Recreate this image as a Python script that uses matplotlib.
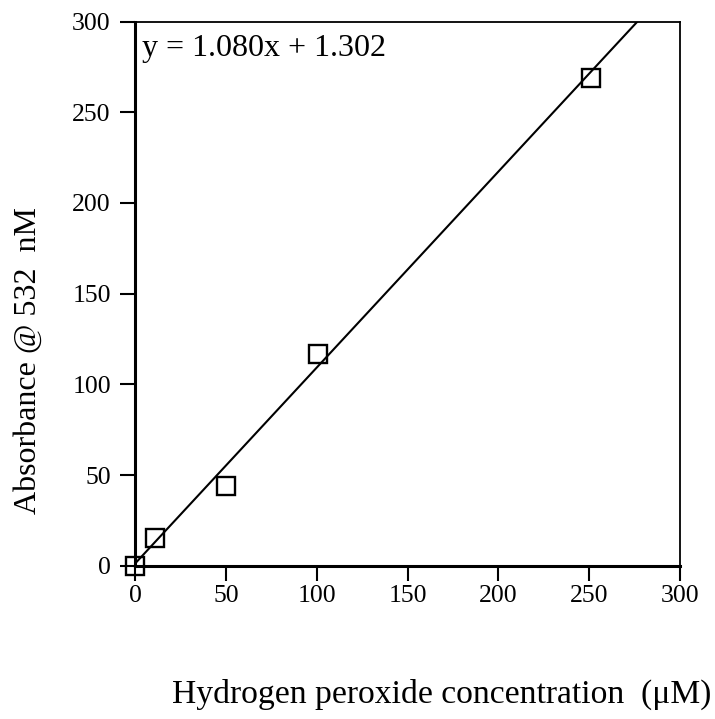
import matplotlib
matplotlib.use("Agg")
from matplotlib import rcParams
rcParams['font.family'] = ['Liberation Serif', 'DejaVu Serif']
import matplotlib.pyplot as plt
import numpy as np

# standard curve points
conc = [0, 11, 50, 100.5, 251]
absorb = [0, 15.5, 44, 116.5, 269]

# fit shown in the chart
slope = 1.080
intercept = 1.302

fig = plt.figure(figsize=(7.15, 7.19), dpi=100)
ax = fig.add_axes([0.189, 0.213, 0.762, 0.757])

xfit = np.array([0, 300])
ax.plot(xfit, slope * xfit + intercept, color="k", lw=1.5)
ax.plot(conc, absorb, ls="none", marker="s", markersize=12.5, markerfacecolor="none",
        markeredgecolor="k", markeredgewidth=1.7, clip_on=False)

ax.set_xlim(0, 300)
ax.set_ylim(0, 300)
ax.set_xticks(range(0, 301, 50))
ax.set_yticks(range(0, 301, 50))
ax.tick_params(direction="out", length=10.5, width=1.5, labelsize=18.5)
ax.tick_params(axis="x", pad=3)
ax.tick_params(axis="y", pad=7)
for s in ["left", "bottom"]:
    ax.spines[s].set_linewidth(2.2)
for s in ["top", "right"]:
    ax.spines[s].set_linewidth(1.3)

ax.text(0.012, 0.978, "y = 1.080x + 1.302", transform=ax.transAxes, ha="left", va="top",
        fontsize=23)

fig.text(172 / 715, 1 - 694 / 719, "Hydrogen peroxide concentration  (\u03bcM)",
         ha="left", va="center", fontsize=24.2)
fig.text(28 / 715, 1 - 360 / 719, "Absorbance @ 532  nM", rotation=90,
         ha="center", va="center", fontsize=23)

fig.savefig("out.png", dpi=100)
